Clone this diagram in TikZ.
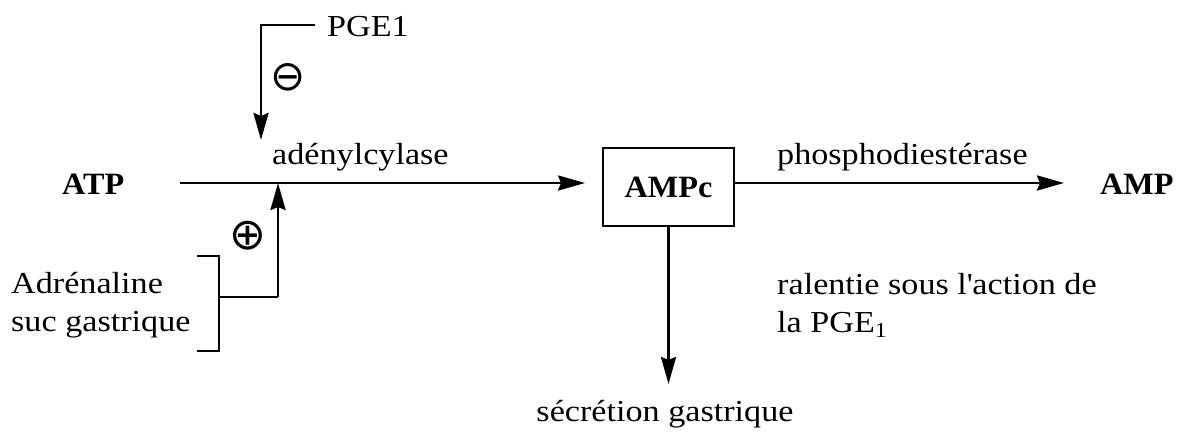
\documentclass[tikz,border=0pt]{standalone}
\usepackage{fontspec}
\setmainfont{Liberation Serif}[FakeStretch=1.12]
\newfontfamily\boldserif{Liberation Serif}[FakeStretch=1.04]
\newfontfamily\symfont{DejaVu Sans}
\usetikzlibrary{arrows.meta}
\begin{document}
\begin{tikzpicture}[x=1pt,y=-1pt,
  txt/.style={inner sep=0pt, anchor=base west, font=\fontsize{30.5}{37}\selectfont},
  btxt/.style={inner sep=0pt, anchor=base west, font=\fontsize{31}{37}\selectfont\boldserif\bfseries},
  sym/.style={inner sep=0pt, font=\fontsize{44}{46}\selectfont\symfont},
  conn/.style={line width=2.9pt},
  arr/.style={line width=2.9pt, -{Stealth[length=27pt,width=15pt,inset=3pt]}},
  boxst/.style={draw, line width=1.8pt, minimum width=131pt, minimum height=78pt, inner sep=0pt}]
\useasboundingbox (0,0) rectangle (1177,435);
% nodes
\node[btxt] (atp) at (62,195) {ATP};
\node[btxt] (amp) at (1100,195) {AMP};
\node[boxst, font=\fontsize{31}{37}\selectfont\boldserif\bfseries] (ampc) at (668.5,187) {AMPc};
\node[txt] (pge) at (327,37) {PGE1};
\node[txt] (adcy) at (272,165) {adénylcylase};
\node[txt] (pde) at (777,165) {phosphodiestérase};
\node[txt] (ral1) at (777,295) {ralentie sous l\textquotesingle action de};
\node[txt] (ral2) at (777,332) {la PGE\textsubscript{1}};
\node[txt] (adr) at (11,294) {Adrénaline};
\node[txt] (suc) at (11,331) {suc gastrique};
\node[txt, anchor=base] (sec) at (665,421) {sécrétion gastrique};
\node[sym, font=\fontsize{42}{44}\selectfont\symfont] (minus) at (288,77) {⊖};
\node[sym] (plus) at (248,236) {⊕};
% coordinates
\coordinate (mainstart) at (180,183);
\coordinate (pgestart) at (315,25);
\coordinate (pgecorner) at (261,25);
\coordinate (pgetip) at (261,140);
\coordinate (juncup) at (278,183);
\coordinate (upstart) at (278,297);
\coordinate (brmid) at (219,297);
\coordinate (brtop) at (219,256);
\coordinate (brtopend) at (197,256);
\coordinate (brbot) at (219,351);
\coordinate (brbotend) at (197,351);
\coordinate (ampend) at (1064,183);
\coordinate (secend) at (ampc.south |- 0,384);
% connectors
\draw[arr, shorten >=17pt] (mainstart) -- (ampc.west |- mainstart);
\draw[arr] (pgestart) -- (pgecorner) -- (pgetip);
\draw[arr] (upstart) -- (juncup);
\draw[conn] (upstart) -- (brmid);
\draw[conn] (brtopend) -- (brtop) -- (brbot) -- (brbotend);
\draw[arr] (ampc.east |- ampend) -- (ampend);
\draw[arr] (ampc.south) -- (secend);
\end{tikzpicture}
\end{document}
